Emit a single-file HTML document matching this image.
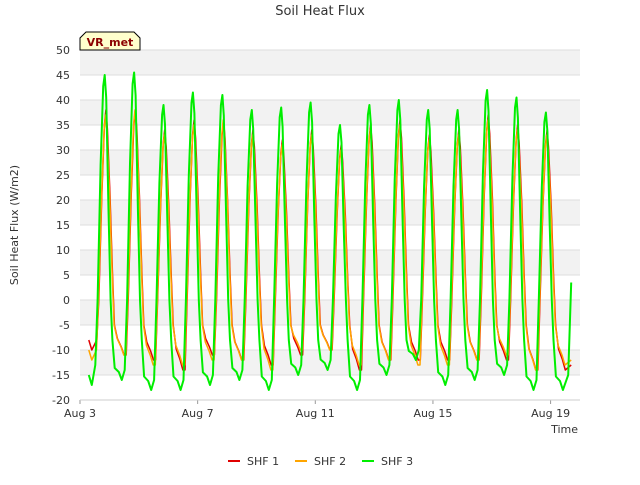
<!DOCTYPE html>
<html><head><meta charset="utf-8"><style>
body{margin:0;background:#fff;font-family:"Liberation Sans","DejaVu Sans",sans-serif;}
</style></head><body>
<svg id="chart" width="640" height="480" style="font-family:'DejaVu Sans','Liberation Sans',sans-serif">
<rect width="640" height="480" fill="#fff"/>
<text x="320" y="15" text-anchor="middle" font-size="13" fill="#333">Soil Heat Flux</text>
<g id="bands"></g>
<g id="grid"></g>
<g id="series"></g>
<g id="axes"></g>
<text transform="translate(18,225) rotate(-90)" text-anchor="middle" font-size="11" fill="#333">Soil Heat Flux (W/m2)</text>
<text x="578" y="433" text-anchor="end" font-size="11" fill="#333">Time</text>
<g>
<path d="M80,50 L80,38 L86,32 L134,32 L140,38 L140,50 Z" fill="#ffffcc" stroke="#000" stroke-width="1"/>
<text x="110" y="46" text-anchor="middle" font-size="11" font-weight="bold" fill="#8b0000">VR_met</text>
</g>
<g id="legend"></g>
</svg>
<script>
const yTicks=[-20,-15,-10,-5,0,5,10,15,20,25,30,35,40,45,50];
const xTickDays=[3,7,11,15,19];
const xTickLabels=["Aug 3","Aug 7","Aug 11","Aug 15","Aug 19"];
const seriesNames=["SHF 1","SHF 2","SHF 3"];
const seriesColors=["#e00000","#ffa500","#00ee00"];
const peakDays=[3,4,5,6,7,8,9,10,11,12,13,14,15,16,17,18];
const shf1Peaks=[38,38,34,36,36,34,32,34,31,35,36,33,34,37,35,34];
const shf1Troughs=[-8,-11,-12,-14,-11,-12,-13,-11,-10,-14,-12,-12,-12,-12,-12,-14,-14];
const shf2Peaks=[37,38,33,35,36,33,31,33,30,34,35,32,33,36,34,33];
const shf2Troughs=[-10,-11,-13,-13,-12,-12,-14,-10,-10,-13,-12,-13,-13,-12,-11,-14,-13];
const shf3Peaks=[45,45.5,39,41.5,41,38,38.5,39.5,35,39,40,38,38,42,40.5,37.5];
const shf3Troughs=[-15,-16,-18,-18,-17,-16,-18,-15,-14,-18,-15,-12,-17,-16,-15,-18,-18];
const endValues=[-13,-12,3.5];
const X0=80,X1=580,Y0=400,Y1=50,D0=3,D1=20,V0=-20,V1=50;
const xs=d=>X0+(d-D0)/(D1-D0)*(X1-X0);
const ys=v=>Y0-(v-V0)/(V1-V0)*(Y0-Y1);
const NS="http://www.w3.org/2000/svg";
function mk(tag,attrs,parent){const e=document.createElementNS(NS,tag);for(const k in attrs)e.setAttribute(k,attrs[k]);parent.appendChild(e);return e;}
const bands=document.getElementById('bands'),grid=document.getElementById('grid'),axes=document.getElementById('axes'),ser=document.getElementById('series'),leg=document.getElementById('legend');
mk('rect',{x:X0,y:Y1,width:X1-X0,height:Y0-Y1,fill:'#fff'},bands);
for(let v=45;v>-20;v-=10){const r=mk('rect',{x:X0,y:ys(v+5),width:X1-X0,height:ys(v)-ys(v+5),fill:'#f2f2f2'},bands);

}
yTicks.forEach(v=>{
const l=mk('line',{x1:X0,x2:X1,y1:ys(v),y2:ys(v),stroke:'#dddddd','stroke-width':1},grid);


const t=mk('text',{x:X0-10,y:ys(v)+4,'text-anchor':'end','font-size':11,fill:'#333'},axes);
t.textContent=v;


});
xTickDays.forEach((d,i)=>{
mk('line',{x1:xs(d),x2:xs(d),y1:Y0,y2:Y0+4,stroke:'#999'},axes);
const t=mk('text',{x:xs(d),y:Y0+17,'text-anchor':'middle','font-size':11,fill:'#333'},axes);
t.textContent=xTickLabels[i];


});
mk('line',{x1:X0,x2:X1,y1:Y0,y2:Y0,stroke:'#ccc'},axes);
function buildGreen(peaks,troughs,endV){
const pts=[[3.3,troughs[0]],[3.4,troughs[0]-2]];
peakDays.forEach((d,i)=>{
const p=peaks[i],t0=troughs[i],tn=troughs[i+1];
pts.push([d+0.52,t0+2]);
pts.push([d+0.6,0]);
pts.push([d+0.7,p*0.6]);
pts.push([d+0.79,p*0.95]);
pts.push([d+0.84,p]);
pts.push([d+0.89,p*0.9]);
pts.push([d+0.97,p*0.4]);
pts.push([d+1.04,0]);
pts.push([d+1.1,-8]);
pts.push([d+1.18,tn*0.85]);
pts.push([d+1.32,tn*0.9]);
pts.push([d+1.42,tn]);
});
pts.push([19.6,-15]);
pts.push([19.7,endV]);
return pts;}
function buildRed(peaks,troughs,endV,sh){
const pts=[[3.3,troughs[0]],[3.4,troughs[0]-2]];
peakDays.forEach((d,i)=>{
const p=peaks[i],t0=troughs[i],tn=troughs[i+1];
pts.push([d+0.55+sh,t0]);
pts.push([d+0.62+sh,0]);
pts.push([d+0.72+sh,p*0.55]);
pts.push([d+0.81+sh,p*0.92]);
pts.push([d+0.86+sh,p]);
pts.push([d+0.91+sh,p*0.9]);
pts.push([d+1.0+sh,p*0.55]);
pts.push([d+1.08+sh,p*0.15]);
pts.push([d+1.15+sh,-5]);
pts.push([d+1.25+sh,tn*0.7]);
pts.push([d+1.38+sh,tn*0.85]);
pts.push([d+1.48+sh,tn]);
});
pts.push([19.7,endV]);
return pts;}
const all=[[shf1Peaks,shf1Troughs],[shf2Peaks,shf2Troughs],[shf3Peaks,shf3Troughs]];
all.forEach((s,k)=>{
const pts=k==2?buildGreen(s[0],s[1],endValues[k]):buildRed(s[0],s[1],endValues[k],k==1?0.01:0.02);
const d=pts.map((p,i)=>(i?'L':'M')+xs(p[0]).toFixed(1)+','+ys(p[1]).toFixed(1)).join(' ');
const pa=mk('path',{d:d,fill:'none',stroke:seriesColors[k],'stroke-width':k==2?2:1.5,'stroke-linejoin':'round'},ser);


});
const lx=[228,295,362];
seriesNames.forEach((n,i)=>{
const g=mk('g',{},leg);


mk('line',{x1:lx[i],x2:lx[i]+12,y1:461,y2:461,stroke:seriesColors[i],'stroke-width':2},g);
const t=mk('text',{x:lx[i]+19,y:465,'font-size':11,fill:'#333'},g);t.textContent=n;
});
</script>
</body></html>
